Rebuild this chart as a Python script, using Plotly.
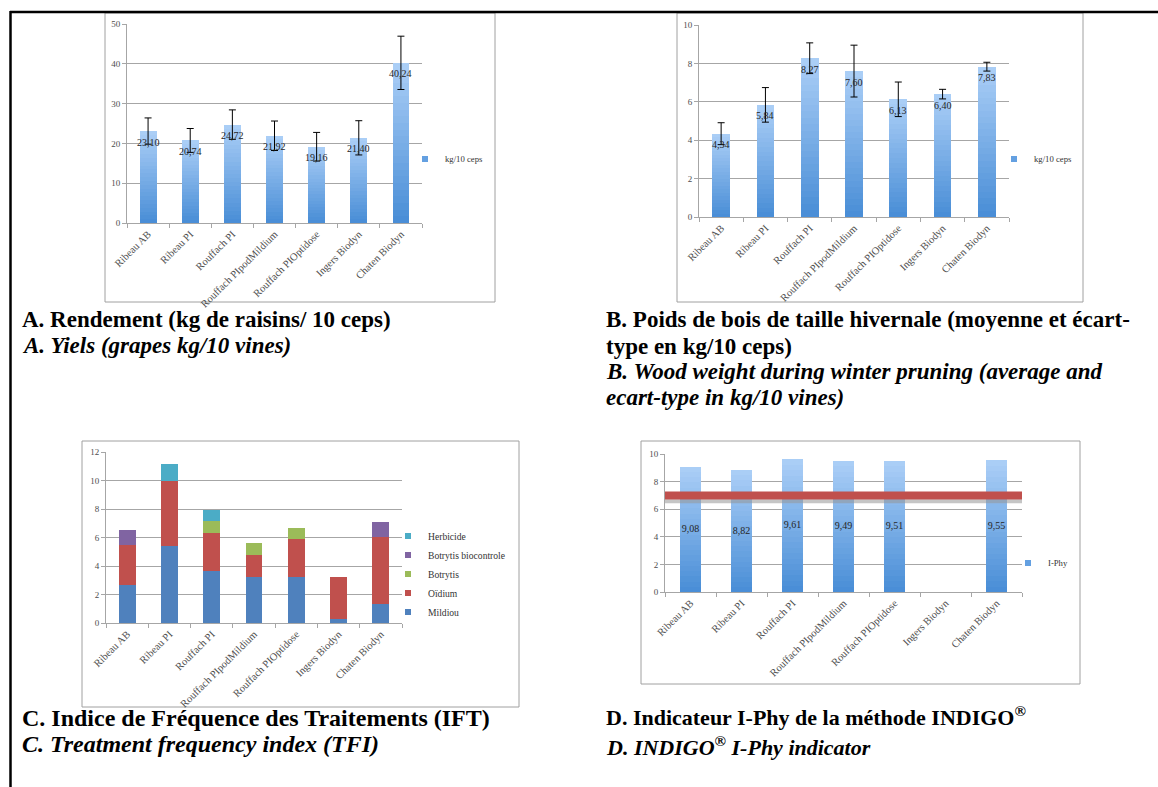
import plotly.graph_objects as go

# ---------------- data ----------------
categories = ["Ribeau AB", "Ribeau PI", "Rouffach PI", "Rouffach PIpodMildium",
              "Rouffach PIOptidose", "Ingers Biodyn", "Chaten Biodyn"]

yield_kg = [23.10, 20.74, 24.72, 21.92, 19.16, 21.40, 40.24]
yield_sd = [3.3, 3.0, 3.7, 3.7, 3.6, 4.3, 6.7]

wood_kg = [4.34, 5.84, 8.27, 7.60, 6.13, 6.40, 7.83]
wood_sd = [0.57, 0.90, 0.80, 1.35, 0.90, 0.25, 0.23]

ift_mildiou = [2.64, 5.43, 3.67, 3.25, 3.25, 0.30, 1.33]
ift_oidium = [2.83, 4.53, 2.65, 1.55, 2.62, 2.93, 4.71]
ift_botrytis = [0, 0, 0.81, 0.79, 0.80, 0, 0]
ift_botrytis_bio = [1.03, 0, 0, 0, 0, 0, 1.02]
ift_herbicide = [0, 1.20, 0.77, 0, 0, 0, 0]

iphy = [9.08, 8.82, 9.61, 9.49, 9.51, None, 9.55]
iphy_threshold = 7.0

# ---------------- helpers ----------------
W, H = 1158, 787
def px(x):
    return x / W
def py(y):
    return 1 - y / H

SERIF = "Liberation Serif, Times New Roman, serif"
GRID = "#A6A6A6"
XTICKFONT = dict(family=SERIF, size=10.5, color="#4D4D4D")
YTICKFONT = dict(family=SERIF, size=9, color="#4D4D4D")
TOP_RGB = (172, 207, 247)
BOT_RGB = (72, 141, 214)
NSEG = 24

def seg_color(k):
    t = (k + 0.5) / NSEG
    r, g, b = [round(BOT_RGB[i] + (TOP_RGB[i] - BOT_RGB[i]) * t) for i in range(3)]
    return f"rgb({r},{g},{b})"

def fmt(v):
    return "" if v is None else f"{v:.2f}".replace(".", ",")

fig = go.Figure()
ann = []

def gradient_bars(values, xa, ya):
    for k in range(NSEG):
        seg = [None if v is None else v / NSEG for v in values]
        fig.add_trace(go.Bar(x=categories, y=seg, xaxis=xa, yaxis=ya,
                             marker=dict(color=seg_color(k), line=dict(width=0)),
                             showlegend=False, hoverinfo="skip"))

def legend_key(name, color, legend, xa, ya):
    fig.add_trace(go.Scatter(x=[None], y=[None], xaxis=xa, yaxis=ya, mode="markers",
                             marker=dict(symbol="square", size=6, color=color),
                             name=name, legend=legend, showlegend=True))

def error_trace(values, sds, xa, ya):
    fig.add_trace(go.Scatter(x=categories, y=values, xaxis=xa, yaxis=ya, mode="markers",
                             marker=dict(size=1, color="rgba(0,0,0,0)"),
                             error_y=dict(type="data", array=sds, color="black",
                                          thickness=1, width=3.5),
                             showlegend=False, hoverinfo="skip"))

def top_labels(values, xa, ya):
    for c, v in zip(categories, values):
        ann.append(dict(x=c, y=v, xref=xa, yref=ya, text=fmt(v), showarrow=False,
                        yshift=-11, font=dict(family=SERIF, size=10, color="#262626")))

LEG_BLUE = "rgb(100,160,225)"

# ---------------- A ----------------
gradient_bars(yield_kg, "x", "y")
error_trace(yield_kg, yield_sd, "x", "y")
top_labels(yield_kg, "x", "y")
legend_key("kg/10 ceps", LEG_BLUE, "legend", "x", "y")

# ---------------- B ----------------
gradient_bars(wood_kg, "x2", "y2")
error_trace(wood_kg, wood_sd, "x2", "y2")
top_labels(wood_kg, "x2", "y2")
legend_key("kg/10 ceps", LEG_BLUE, "legend2", "x2", "y2")

# ---------------- C ----------------
c_series = [("Mildiou", ift_mildiou, "#4F81BD"),
            ("Oïdium", ift_oidium, "#C0504D"),
            ("Botrytis", ift_botrytis, "#9BBB59"),
            ("Botrytis biocontrole", ift_botrytis_bio, "#8064A2"),
            ("Herbicide", ift_herbicide, "#4BACC6")]
for name, vals, col in c_series:
    fig.add_trace(go.Bar(x=categories, y=vals, xaxis="x3", yaxis="y3", name=name,
                         marker=dict(color=col, line=dict(width=0)),
                         showlegend=False, hoverinfo="skip"))
for name, vals, col in reversed(c_series):
    legend_key(name, col, "legend3", "x3", "y3")

# ---------------- D ----------------
gradient_bars(iphy, "x4", "y4")
fig.add_trace(go.Scatter(x=categories, y=[None if v is None else v / 2 for v in iphy],
                         xaxis="x4", yaxis="y4", mode="text",
                         text=[fmt(v) for v in iphy], textposition="middle center",
                         textfont=dict(family=SERIF, size=10, color="#262626"),
                         showlegend=False, hoverinfo="skip"))
legend_key("I-Phy", LEG_BLUE, "legend4", "x4", "y4")

# ---------------- axes ----------------
def xaxis_cfg(x0, x1, anchor):
    return dict(domain=[px(x0), px(x1)], anchor=anchor, type="category",
                categoryorder="array", categoryarray=categories,
                showline=True, linecolor=GRID, linewidth=1, ticks="outside",
                tickson="boundaries", ticklen=4, tickcolor=GRID, tickangle=-45,
                showgrid=False, tickfont=XTICKFONT, automargin=False, fixedrange=True)

def yaxis_cfg(y_top, y_bot, anchor, rmax, dtick):
    return dict(domain=[py(y_bot), py(y_top)], anchor=anchor, range=[0, rmax],
                dtick=dtick, showline=True, linecolor=GRID, linewidth=1,
                ticks="outside", ticklen=4, tickcolor=GRID, showgrid=True,
                gridcolor=GRID, gridwidth=1, zeroline=False, tickfont=YTICKFONT,
                automargin=False, fixedrange=True)

layout = dict(
    width=W, height=H, margin=dict(l=0, r=0, t=0, b=0),
    paper_bgcolor="white", plot_bgcolor="white",
    barmode="stack", bargap=0.6,
    xaxis=xaxis_cfg(127, 422, "y"), yaxis=yaxis_cfg(24, 223, "x", 50, 10),
    xaxis2=xaxis_cfg(699, 1009, "y2"), yaxis2=yaxis_cfg(25, 217, "x2", 10, 2),
    xaxis3=xaxis_cfg(106, 402, "y3"), yaxis3=yaxis_cfg(452, 623, "x3", 12, 2),
    xaxis4=xaxis_cfg(665, 1022, "y4"), yaxis4=yaxis_cfg(454, 592, "x4", 10, 2),
)

def leg(x, y, size=8.7):
    return dict(x=px(x), y=py(y), xanchor="left", yanchor="middle",
                bgcolor="rgba(0,0,0,0)", borderwidth=0, itemwidth=30,
                font=dict(family=SERIF, size=size, color="#333333"),
                itemclick=False, itemdoubleclick=False)

layout["legend"] = leg(405, 159)
layout["legend2"] = leg(994, 159)
layout["legend3"] = leg(388, 574, 9.6)
layout["legend4"] = leg(1008, 563)

fig.update_layout(**layout)

# ---------------- frames & boxes ----------------
shapes = []
def box(x0, y0, x1, y1):
    shapes.append(dict(type="rect", xref="paper", yref="paper",
                       x0=px(x0), x1=px(x1), y0=py(y1), y1=py(y0),
                       line=dict(color="#A0A0A0", width=1), layer="below"))
box(105, 13, 495, 302)
box(677, 13, 1083, 302)
box(82, 441, 519, 707)
box(641, 441, 1080, 684)
shapes.append(dict(type="line", xref="paper", yref="paper", x0=px(10), x1=1,
                   y0=py(12), y1=py(12), line=dict(color="black", width=2.5)))
shapes.append(dict(type="line", xref="paper", yref="paper", x0=px(10.5), x1=px(10.5),
                   y0=py(11), y1=0, line=dict(color="black", width=2.5)))
# I-Phy acceptability threshold with shadow
shapes.append(dict(type="line", xref="x4 domain", yref="y4", x0=0, x1=1,
                   y0=iphy_threshold - 0.43, y1=iphy_threshold - 0.43,
                   line=dict(color="rgba(150,150,150,0.55)", width=4)))
shapes.append(dict(type="line", xref="x4 domain", yref="y4", x0=0, x1=1,
                   y0=iphy_threshold, y1=iphy_threshold,
                   line=dict(color="#C0504D", width=8)))

# ---------------- captions ----------------
def cap(x, y, text, size=23):
    ann.append(dict(xref="paper", yref="paper", x=px(x), y=py(y), xanchor="left",
                    yanchor="middle", showarrow=False, text=text,
                    font=dict(family=SERIF, size=size, color="black")))
cap(20, 319, "<b>A. Rendement (kg de raisins/ 10 ceps)</b>")
cap(20, 345, "<b><i>A. Yiels (grapes kg/10 vines)</i></b>")
cap(604, 319, "<b>B. Poids de bois de taille hivernale (moyenne et écart-</b>")
cap(604, 346, "<b>type en kg/10 ceps)</b>")
cap(604, 372, "<b><i>B. Wood weight during winter pruning (average and</i></b>")
cap(604, 398, "<b><i>ecart-type in kg/10 vines)</i></b>")
cap(20, 718, "<b>C. Indice de Fréquence des Traitements (IFT)</b>", 24)
cap(20, 744, "<b><i>C. Treatment frequency index (TFI)</i></b>", 24)
cap(604, 716, "<b>D. Indicateur I-Phy de la méthode INDIGO<sup>®</sup></b>", 22)
cap(604, 746, "<b><i>D. INDIGO<sup>®</sup> I-Phy indicator</i></b>", 22)

fig.update_layout(shapes=shapes, annotations=ann)

fig.write_html("out.html", config={"displayModeBar": False},
               post_script="document.body.style.margin='0';")
